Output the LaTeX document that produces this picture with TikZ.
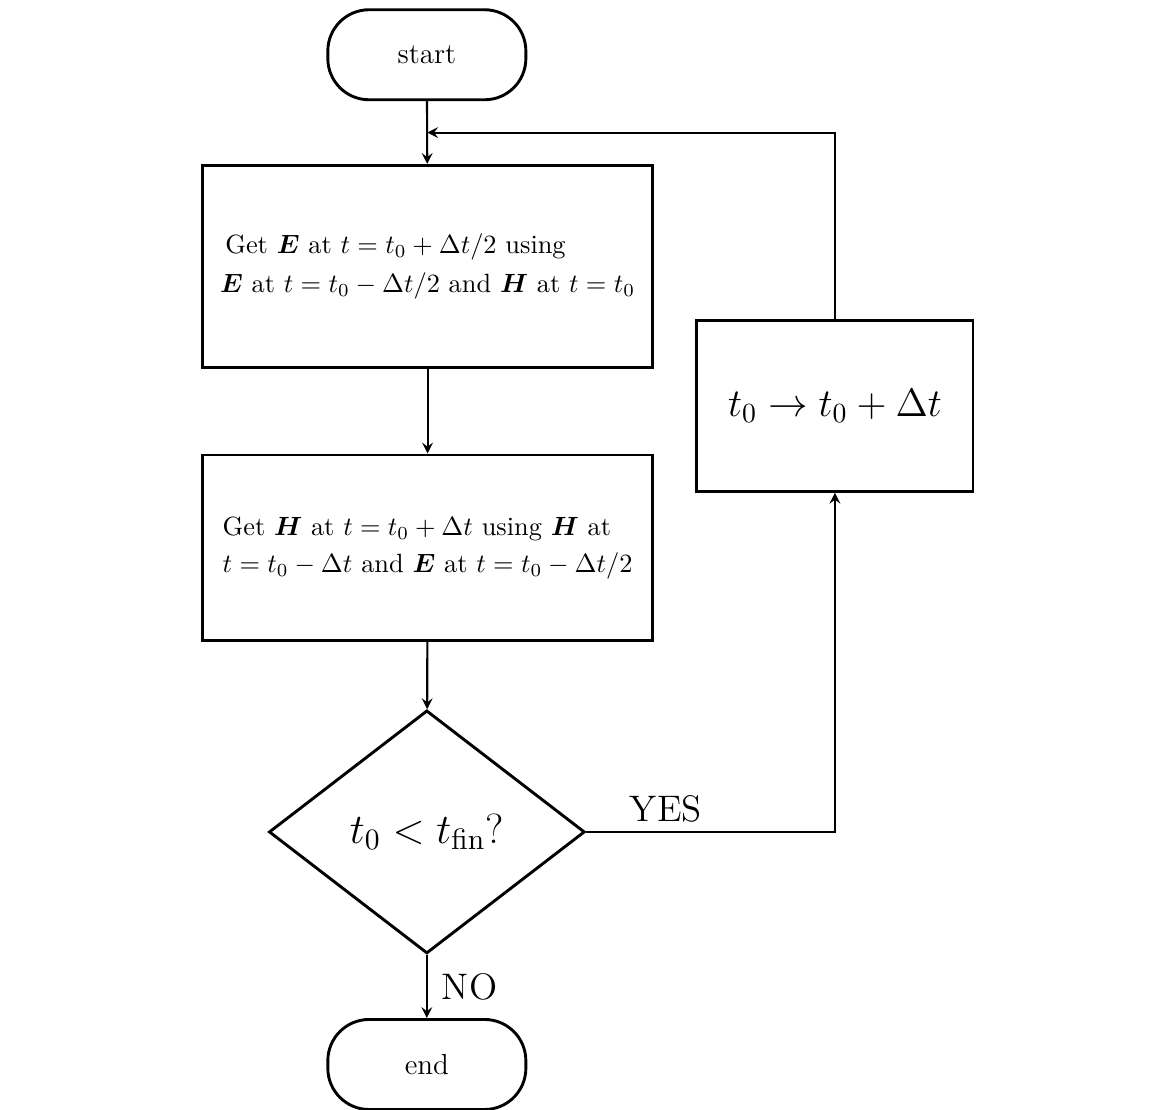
\RequirePackage{fix-cm}
\documentclass[tikz,border=0pt]{standalone}
\usepackage{amsmath, amssymb}
\usepackage{tikz}
\usetikzlibrary{positioning}
\usetikzlibrary{shapes}
\usetikzlibrary{arrows}
\usetikzlibrary{calc}

\begin{document}
\begin{tikzpicture}[
	terminal/.style = {draw, line width=1.1pt, rectangle, rounded corners=0.55cm,
		minimum width=2.64cm, minimum height=1.2cm, font=\fontsize{11}{13}\selectfont},
	stepbox/.style = {draw, line width=1.1pt, rectangle, align=left},
	test/.style = {draw, line width=1.1pt, diamond, inner sep=0pt,
		minimum width=4.21cm, minimum height=3.24cm, font=\fontsize{16}{19}\selectfont},
	flow/.style = {->, >=stealth, line width=0.8pt},
	answer/.style = {font=\fontsize{14}{17}\selectfont}
]
\useasboundingbox (0,0) rectangle (15.53,-14.79);

\node[terminal] (start) at (5.69,-0.73) {start};
\node[stepbox, minimum width=5.99cm, minimum height=2.69cm] (getE) at (5.70,-3.55)
	{\hspace{2pt}Get $\boldsymbol{E}$ at $t=t_0+\Delta t/2$ using\\[3pt]
	$\boldsymbol{E}$ at $t=t_0-\Delta t/2$ and $\boldsymbol{H}$ at $t=t_0$};
\node[stepbox, minimum width=6.0cm, minimum height=2.47cm] (getH) at (5.70,-7.30)
	{Get $\boldsymbol{H}$ at $t=t_0+\Delta t$ using $\boldsymbol{H}$ at\\[2pt]
	$t=t_0-\Delta t$ and $\boldsymbol{E}$ at $t=t_0-\Delta t/2$};
\node[test] (check) at (5.69,-11.09) {$t_0<t_{\mathrm{fin}}$?};
\node[terminal] (end) at (5.69,-14.19) {end};
\node[stepbox, minimum width=3.68cm, minimum height=2.28cm, font=\fontsize{15}{18}\selectfont]
	(advance) at (11.13,-5.41) {$t_0\to t_0+\Delta t$};

\coordinate (merge) at ($(start.south)!0.5!(getE.north)$);

\draw[flow] (start) -- (getE);
\draw[flow] (getE) -- (getH);
\draw[flow] (getH) -- (check);
\draw[flow] (check.east) -| node[answer, pos=0.16, above] {YES} (advance.south);
\draw[flow] (check) -- node[answer, right, xshift=2pt] {NO} (end);
\draw[flow] (advance) -- (advance |- merge) -- (merge);
\end{tikzpicture}
\end{document}
